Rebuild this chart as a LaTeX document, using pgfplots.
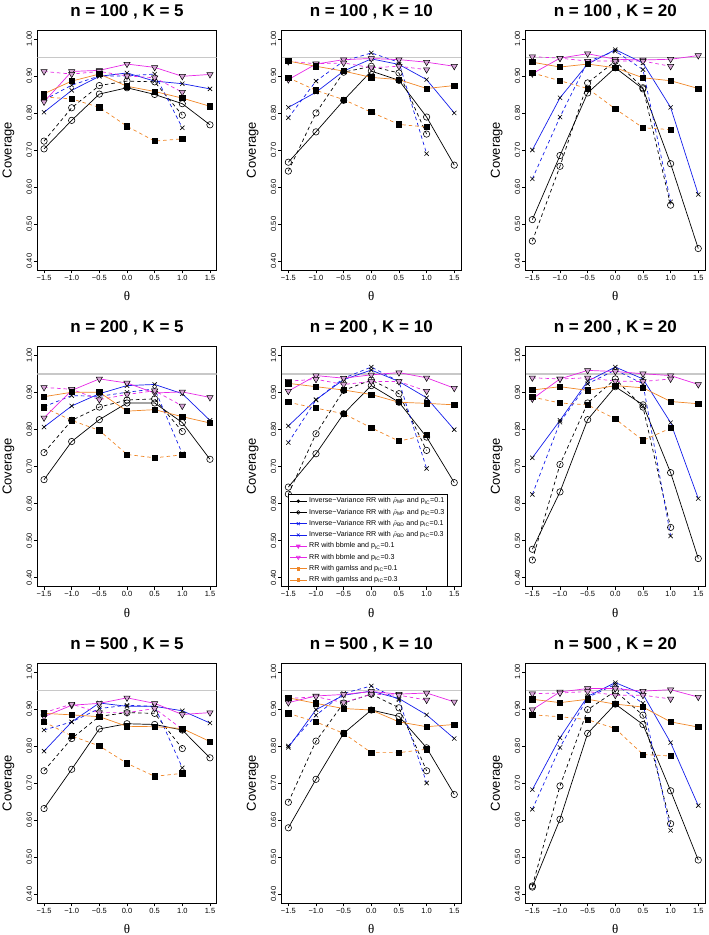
\documentclass[border=0pt]{standalone}
\usepackage{fontspec}
\setmainfont{Liberation Sans}
\newfontfamily\serif{Liberation Serif}
\usepackage{pgfplots}
\pgfplotsset{compat=1.18}
\definecolor{cmag}{RGB}{230,40,230}
\definecolor{corg}{RGB}{240,135,40}
\definecolor{cblu}{RGB}{20,30,235}
\definecolor{tfill}{RGB}{215,165,215}
\definecolor{refgray}{RGB}{200,200,200}
\pgfplotsset{
 panel/.style={scale only axis, width=179.2pt, height=240pt,
  xmin=-1.62, xmax=1.62, ymin=0.376, ymax=1.024,
  xtick={-1.5,-1,-0.5,0,0.5,1,1.5},
  xticklabels={−1.5,−1.0,−0.5,0.0,0.5,1.0,1.5},
  ytick={0.4,0.5,0.6,0.7,0.8,0.9,1.0},
  yticklabels={0.40,0.50,0.60,0.70,0.80,0.90,1.00},
  tick align=outside, tick pos=left, major tick length=3.5pt,
  xticklabel shift=-2pt, yticklabel shift=-1.5pt,
  axis line style={line width=0.8pt},
  every tick/.style={black, line width=0.7pt},
  tick label style={font=\fontsize{7.5}{9}\selectfont},
  yticklabel style={rotate=90, anchor=south},
  xlabel={\serif θ}, ylabel={Coverage},
  label style={font=\fontsize{13}{15}\selectfont},
  xlabel style={at={(axis description cs:0.5,-0.108)}, anchor=center},
  ylabel style={at={(axis description cs:-0.162,0.5)}, anchor=center},
  title style={at={(axis description cs:0.5,1.052)}, anchor=center, font=\bfseries\fontsize{17}{20}\selectfont},
  anchor=south west},
 base/.style={line width=0.7pt, forget plot},
 dsh/.style={dash pattern=on 3.5pt off 3pt},
 S1/.style={base, black, mark=o, mark size=3.2pt, mark options={solid, black, line width=0.6pt}},
 S2/.style={S1, dsh},
 S3/.style={base, cblu, mark=x, mark size=3pt, mark options={solid, black, line width=0.6pt}},
 S4/.style={S3, dsh},
 S5/.style={base, cmag, mark=triangle*, mark size=3.6pt, mark options={solid, rotate=180, draw=black, fill=tfill, line width=0.5pt}},
 S6/.style={S5, dsh},
 S7/.style={base, corg, mark=square*, mark size=2.6pt, mark options={solid, draw=black, fill=black}},
 S8/.style={S7, dsh},
 REF/.style={refgray, line width=1.5pt, forget plot},
}
\begin{document}
\begin{tikzpicture}
\useasboundingbox (0,0) rectangle (709pt,935pt);
% ---------- n=100, K=5
\begin{axis}[panel, at={(37.4pt,665pt)}, title={n = 100 , K = 5}]
\addplot[REF] coordinates {(-1.62,0.95)(1.62,0.95)};
\addplot[S1] coordinates {(-1.5,0.703)(-1,0.780)(-0.5,0.851)(0,0.868)(0.5,0.850)(1,0.825)(1.5,0.768)};
\addplot[S2] coordinates {(-1.5,0.724)(-1,0.814)(-0.5,0.874)(0,0.886)(0.5,0.884)(1,0.794)};
\addplot[S3] coordinates {(-1.5,0.802)(-1,0.861)(-0.5,0.899)(0,0.908)(0.5,0.886)(1,0.879)(1.5,0.865)};
\addplot[S4] coordinates {(-1.5,0.835)(-1,0.875)(-0.5,0.900)(0,0.900)(0.5,0.905)(1,0.760)};
\addplot[S5] coordinates {(-1.5,0.830)(-1,0.912)(-0.5,0.915)(0,0.932)(0.5,0.923)(1,0.899)(1.5,0.904)};
\addplot[S6] coordinates {(-1.5,0.912)(-1,0.905)(-0.5,0.912)(0,0.900)(0.5,0.895)(1,0.856)};
\addplot[S7] coordinates {(-1.5,0.852)(-1,0.886)(-0.5,0.905)(0,0.872)(0.5,0.858)(1,0.840)(1.5,0.818)};
\addplot[S8] coordinates {(-1.5,0.843)(-1,0.838)(-0.5,0.815)(0,0.764)(0.5,0.724)(1,0.730)};
\end{axis}
% ---------- n=100, K=10
\begin{axis}[panel, at={(281.7pt,665pt)}, title={n = 100 , K = 10}]
\addplot[REF] coordinates {(-1.62,0.95)(1.62,0.95)};
\addplot[S1] coordinates {(-1.5,0.667)(-1,0.749)(-0.5,0.834)(0,0.913)(0.5,0.888)(1,0.789)(1.5,0.659)};
\addplot[S2] coordinates {(-1.5,0.643)(-1,0.800)(-0.5,0.910)(0,0.926)(0.5,0.908)(1,0.743)};
\addplot[S3] coordinates {(-1.5,0.815)(-1,0.856)(-0.5,0.913)(0,0.946)(0.5,0.931)(1,0.890)(1.5,0.800)};
\addplot[S4] coordinates {(-1.5,0.787)(-1,0.886)(-0.5,0.940)(0,0.962)(0.5,0.937)(1,0.690)};
\addplot[S5] coordinates {(-1.5,0.890)(-1,0.932)(-0.5,0.944)(0,0.947)(0.5,0.944)(1,0.937)(1.5,0.926)};
\addplot[S6] coordinates {(-1.5,0.939)(-1,0.933)(-0.5,0.935)(0,0.922)(0.5,0.926)(1,0.917)};
\addplot[S7] coordinates {(-1.5,0.940)(-1,0.926)(-0.5,0.913)(0,0.896)(0.5,0.890)(1,0.866)(1.5,0.874)};
\addplot[S8] coordinates {(-1.5,0.895)(-1,0.861)(-0.5,0.836)(0,0.802)(0.5,0.769)(1,0.762)};
\end{axis}
% ---------- n=100, K=20
\begin{axis}[panel, at={(525.7pt,665pt)}, title={n = 100 , K = 20}]
\addplot[REF] coordinates {(-1.62,0.95)(1.62,0.95)};
\addplot[S1] coordinates {(-1.5,0.512)(-1,0.685)(-0.5,0.854)(0,0.922)(0.5,0.865)(1,0.663)(1.5,0.434)};
\addplot[S2] coordinates {(-1.5,0.454)(-1,0.656)(-0.5,0.881)(0,0.940)(0.5,0.868)(1,0.551)};
\addplot[S3] coordinates {(-1.5,0.700)(-1,0.841)(-0.5,0.932)(0,0.971)(0.5,0.935)(1,0.815)(1.5,0.580)};
\addplot[S4] coordinates {(-1.5,0.622)(-1,0.789)(-0.5,0.939)(0,0.967)(0.5,0.917)(1,0.560)};
\addplot[S5] coordinates {(-1.5,0.906)(-1,0.948)(-0.5,0.960)(0,0.945)(0.5,0.943)(1,0.945)(1.5,0.955)};
\addplot[S6] coordinates {(-1.5,0.952)(-1,0.948)(-0.5,0.940)(0,0.940)(0.5,0.940)(1,0.926)};
\addplot[S7] coordinates {(-1.5,0.937)(-1,0.924)(-0.5,0.932)(0,0.922)(0.5,0.895)(1,0.887)(1.5,0.866)};
\addplot[S8] coordinates {(-1.5,0.908)(-1,0.887)(-0.5,0.866)(0,0.811)(0.5,0.760)(1,0.755)};
\end{axis}
% ---------- n=200, K=5
\begin{axis}[panel, at={(37.4pt,348.3pt)}, title={n = 200 , K = 5}]
\addplot[REF] coordinates {(-1.62,0.95)(1.62,0.95)};
\addplot[S1] coordinates {(-1.5,0.665)(-1,0.768)(-0.5,0.827)(0,0.872)(0.5,0.872)(1,0.819)(1.5,0.720)};
\addplot[S2] coordinates {(-1.5,0.738)(-1,0.825)(-0.5,0.861)(0,0.880)(0.5,0.883)(1,0.795)};
\addplot[S3] coordinates {(-1.5,0.807)(-1,0.864)(-0.5,0.897)(0,0.919)(0.5,0.922)(1,0.897)(1.5,0.825)};
\addplot[S4] coordinates {(-1.5,0.862)(-1,0.892)(-0.5,0.890)(0,0.901)(0.5,0.910)(1,0.735)};
\addplot[S5] coordinates {(-1.5,0.832)(-1,0.906)(-0.5,0.937)(0,0.926)(0.5,0.899)(1,0.902)(1.5,0.887)};
\addplot[S6] coordinates {(-1.5,0.914)(-1,0.909)(-0.5,0.881)(0,0.895)(0.5,0.905)(1,0.864)};
\addplot[S7] coordinates {(-1.5,0.889)(-1,0.901)(-0.5,0.901)(0,0.850)(0.5,0.854)(1,0.835)(1.5,0.818)};
\addplot[S8] coordinates {(-1.5,0.860)(-1,0.825)(-0.5,0.798)(0,0.733)(0.5,0.724)(1,0.732)};
\end{axis}
% ---------- n=200, K=10
\begin{axis}[panel, at={(281.7pt,348.3pt)}, title={n = 200 , K = 10},
  legend style={at={(axis description cs:0.035,0)}, anchor=south west, draw=black, line width=0.6pt, fill=white,
   font=\fontsize{7.1}{8}\selectfont, inner sep=1.2pt, row sep=0.6pt},
  legend cell align=left]
\addplot[REF] coordinates {(-1.62,0.95)(1.62,0.95)};
\addplot[S1] coordinates {(-1.5,0.645)(-1,0.735)(-0.5,0.843)(0,0.919)(0.5,0.874)(1,0.780)(1.5,0.657)};
\addplot[S2] coordinates {(-1.5,0.626)(-1,0.789)(-0.5,0.906)(0,0.934)(0.5,0.897)(1,0.744)};
\addplot[S3] coordinates {(-1.5,0.810)(-1,0.881)(-0.5,0.935)(0,0.961)(0.5,0.930)(1,0.886)(1.5,0.800)};
\addplot[S4] coordinates {(-1.5,0.765)(-1,0.880)(-0.5,0.939)(0,0.969)(0.5,0.930)(1,0.695)};
\addplot[S5] coordinates {(-1.5,0.904)(-1,0.946)(-0.5,0.939)(0,0.948)(0.5,0.954)(1,0.940)(1.5,0.912)};
\addplot[S6] coordinates {(-1.5,0.931)(-1,0.936)(-0.5,0.922)(0,0.930)(0.5,0.930)(1,0.904)};
\addplot[S7] coordinates {(-1.5,0.925)(-1,0.916)(-0.5,0.907)(0,0.895)(0.5,0.874)(1,0.871)(1.5,0.867)};
\addplot[S8] coordinates {(-1.5,0.874)(-1,0.858)(-0.5,0.843)(0,0.805)(0.5,0.769)(1,0.786)};
\addlegendimage{black, line width=0.6pt, mark=*, mark size=1.4pt}
\addlegendentry{Inverse−Variance RR with \smash{$\hat{\rho}_{\mathrm{MP}}$} and p\textsubscript{IC}=0.1}
\addlegendimage{black, line width=0.6pt, mark=o, mark size=1.8pt}
\addlegendentry{Inverse−Variance RR with \smash{$\hat{\rho}_{\mathrm{MP}}$} and p\textsubscript{IC}=0.3}
\addlegendimage{cblu, line width=0.6pt, mark=x, mark size=2pt}
\addlegendentry{Inverse−Variance RR with \smash{$\hat{\rho}_{\mathrm{BD}}$} and p\textsubscript{IC}=0.1}
\addlegendimage{cblu, line width=0.6pt, mark=x, mark size=2pt}
\addlegendentry{Inverse−Variance RR with \smash{$\hat{\rho}_{\mathrm{BD}}$} and p\textsubscript{IC}=0.3}
\addlegendimage{cmag, line width=0.6pt, mark=triangle*, mark size=2.2pt, mark options={rotate=180}}
\addlegendentry{RR with bbmle and p\textsubscript{IC}=0.1}
\addlegendimage{cmag, line width=0.6pt, mark=triangle, mark size=2.2pt, mark options={rotate=180}}
\addlegendentry{RR with bbmle and p\textsubscript{IC}=0.3}
\addlegendimage{corg, line width=0.6pt, mark=square*, mark size=1.4pt}
\addlegendentry{RR with gamlss and p\textsubscript{IC}=0.1}
\addlegendimage{corg, line width=0.6pt, mark=square*, mark size=1.4pt}
\addlegendentry{RR with gamlss and p\textsubscript{IC}=0.3}
\end{axis}
% ---------- n=200, K=20
\begin{axis}[panel, at={(525.7pt,348.3pt)}, title={n = 200 , K = 20}]
\addplot[REF] coordinates {(-1.62,0.95)(1.62,0.95)};
\addplot[S1] coordinates {(-1.5,0.477)(-1,0.632)(-0.5,0.827)(0,0.916)(0.5,0.867)(1,0.684)(1.5,0.452)};
\addplot[S2] coordinates {(-1.5,0.448)(-1,0.706)(-0.5,0.872)(0,0.937)(0.5,0.861)(1,0.536)};
\addplot[S3] coordinates {(-1.5,0.724)(-1,0.825)(-0.5,0.931)(0,0.969)(0.5,0.937)(1,0.819)(1.5,0.614)};
\addplot[S4] coordinates {(-1.5,0.625)(-1,0.820)(-0.5,0.924)(0,0.961)(0.5,0.924)(1,0.513)};
\addplot[S5] coordinates {(-1.5,0.883)(-1,0.937)(-0.5,0.960)(0,0.957)(0.5,0.951)(1,0.946)(1.5,0.922)};
\addplot[S6] coordinates {(-1.5,0.940)(-1,0.937)(-0.5,0.940)(0,0.931)(0.5,0.930)(1,0.937)};
\addplot[S7] coordinates {(-1.5,0.907)(-1,0.916)(-0.5,0.906)(0,0.919)(0.5,0.913)(1,0.876)(1.5,0.870)};
\addplot[S8] coordinates {(-1.5,0.888)(-1,0.872)(-0.5,0.867)(0,0.829)(0.5,0.771)(1,0.804)};
\end{axis}
% ---------- n=500, K=5
\begin{axis}[panel, at={(37.4pt,32pt)}, title={n = 500 , K = 5}]
\addplot[REF] coordinates {(-1.62,0.95)(1.62,0.95)};
\addplot[S1] coordinates {(-1.5,0.631)(-1,0.737)(-0.5,0.846)(0,0.860)(0.5,0.858)(1,0.843)(1.5,0.768)};
\addplot[S2] coordinates {(-1.5,0.733)(-1,0.820)(-0.5,0.880)(0,0.890)(0.5,0.888)(1,0.793)};
\addplot[S3] coordinates {(-1.5,0.786)(-1,0.865)(-0.5,0.916)(0,0.907)(0.5,0.907)(1,0.895)(1.5,0.862)};
\addplot[S4] coordinates {(-1.5,0.843)(-1,0.865)(-0.5,0.901)(0,0.910)(0.5,0.907)(1,0.741)};
\addplot[S5] coordinates {(-1.5,0.879)(-1,0.910)(-0.5,0.915)(0,0.930)(0.5,0.915)(1,0.885)(1.5,0.890)};
\addplot[S6] coordinates {(-1.5,0.890)(-1,0.913)(-0.5,0.890)(0,0.890)(0.5,0.901)(1,0.845)};
\addplot[S7] coordinates {(-1.5,0.888)(-1,0.884)(-0.5,0.879)(0,0.853)(0.5,0.852)(1,0.847)(1.5,0.812)};
\addplot[S8] coordinates {(-1.5,0.865)(-1,0.827)(-0.5,0.800)(0,0.753)(0.5,0.718)(1,0.726)};
\end{axis}
% ---------- n=500, K=10
\begin{axis}[panel, at={(281.7pt,32pt)}, title={n = 500 , K = 10}]
\addplot[REF] coordinates {(-1.62,0.95)(1.62,0.95)};
\addplot[S1] coordinates {(-1.5,0.579)(-1,0.710)(-0.5,0.834)(0,0.897)(0.5,0.880)(1,0.795)(1.5,0.669)};
\addplot[S2] coordinates {(-1.5,0.648)(-1,0.813)(-0.5,0.916)(0,0.940)(0.5,0.903)(1,0.733)};
\addplot[S3] coordinates {(-1.5,0.796)(-1,0.898)(-0.5,0.937)(0,0.948)(0.5,0.928)(1,0.884)(1.5,0.820)};
\addplot[S4] coordinates {(-1.5,0.800)(-1,0.883)(-0.5,0.942)(0,0.962)(0.5,0.925)(1,0.700)};
\addplot[S5] coordinates {(-1.5,0.917)(-1,0.935)(-0.5,0.939)(0,0.947)(0.5,0.940)(1,0.943)(1.5,0.919)};
\addplot[S6] coordinates {(-1.5,0.928)(-1,0.933)(-0.5,0.917)(0,0.940)(0.5,0.937)(1,0.924)};
\addplot[S7] coordinates {(-1.5,0.930)(-1,0.915)(-0.5,0.901)(0,0.897)(0.5,0.865)(1,0.852)(1.5,0.858)};
\addplot[S8] coordinates {(-1.5,0.888)(-1,0.865)(-0.5,0.834)(0,0.782)(0.5,0.782)(1,0.791)};
\end{axis}
% ---------- n=500, K=20
\begin{axis}[panel, at={(525.7pt,32pt)}, title={n = 500 , K = 20}]
\addplot[REF] coordinates {(-1.62,0.95)(1.62,0.95)};
\addplot[S1] coordinates {(-1.5,0.419)(-1,0.602)(-0.5,0.834)(0,0.913)(0.5,0.858)(1,0.679)(1.5,0.492)};
\addplot[S2] coordinates {(-1.5,0.422)(-1,0.692)(-0.5,0.898)(0,0.948)(0.5,0.883)(1,0.590)};
\addplot[S3] coordinates {(-1.5,0.682)(-1,0.822)(-0.5,0.934)(0,0.971)(0.5,0.940)(1,0.809)(1.5,0.639)};
\addplot[S4] coordinates {(-1.5,0.629)(-1,0.796)(-0.5,0.931)(0,0.966)(0.5,0.915)(1,0.572)};
\addplot[S5] coordinates {(-1.5,0.898)(-1,0.946)(-0.5,0.955)(0,0.955)(0.5,0.948)(1,0.952)(1.5,0.932)};
\addplot[S6] coordinates {(-1.5,0.941)(-1,0.943)(-0.5,0.947)(0,0.937)(0.5,0.937)(1,0.927)};
\addplot[S7] coordinates {(-1.5,0.926)(-1,0.917)(-0.5,0.926)(0,0.913)(0.5,0.905)(1,0.865)(1.5,0.851)};
\addplot[S8] coordinates {(-1.5,0.884)(-1,0.879)(-0.5,0.871)(0,0.847)(0.5,0.777)(1,0.773)};
\end{axis}
\end{tikzpicture}
\end{document}
